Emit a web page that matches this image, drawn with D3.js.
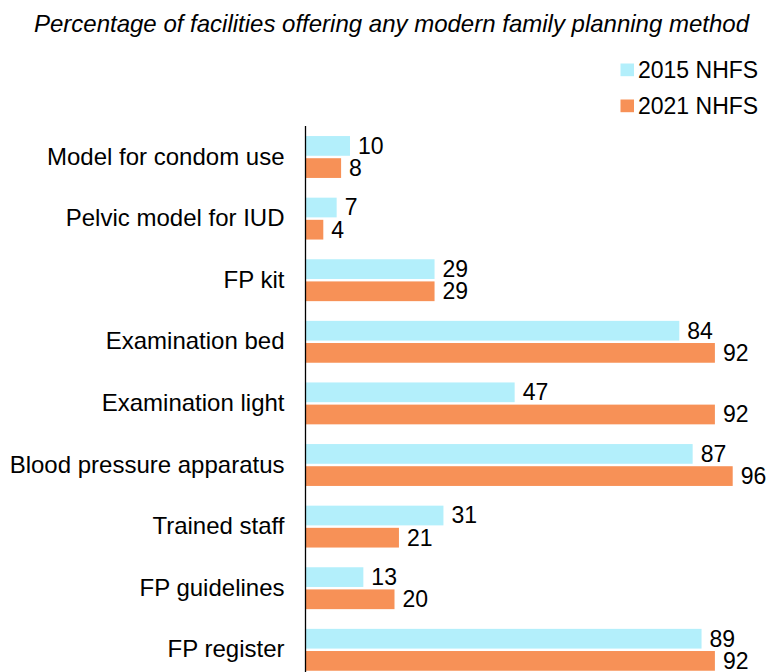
<!DOCTYPE html>
<html><head><meta charset="utf-8">
<script src="https://cdn.jsdelivr.net/npm/d3@7/dist/d3.min.js"></script>
<style>body{margin:0;background:#fff}svg{display:block}text{font-family:"Liberation Sans",Arial,sans-serif;fill:#000}</style>
</head><body>
<svg id="c" width="770" height="672"></svg>
<script>
const title = "Percentage of facilities offering any modern family planning method";
const categories = ["Model for condom use","Pelvic model for IUD","FP kit","Examination bed","Examination light","Blood pressure apparatus","Trained staff","FP guidelines","FP register"];
const seriesNames = ["2015 NHFS","2021 NHFS"];
const values2015 = [10,7,29,84,47,87,31,13,89];
const values2021 = [8,4,29,92,92,96,21,20,92];
const colors = ["#b3effb","#f79157"];

const svg = d3.select("#c");
const x = d3.scaleLinear().domain([0,100]).range([305.5, 305.5+445]);
const y = d3.scaleBand().domain(categories).range([126.2, 126.2+9*61.6]).paddingInner(0.32).paddingOuter(0.16);
const ySub = d3.scaleBand().domain(seriesNames).range([0, y.bandwidth()]).paddingInner(0.11);

svg.append("text").attr("x",391.5).attr("y",31.5).attr("text-anchor","middle")
  .style("font-style","italic").style("font-size","24px").text(title);

const data = categories.map((c,i)=>({c, vals:[values2015[i], values2021[i]]}));
const g = svg.append("g");
data.forEach(d=>{
  d.vals.forEach((v,j)=>{
    const yy = y(d.c)+ySub(seriesNames[j]);
    g.append("rect").attr("x",x(0)).attr("y",yy).attr("width",x(v)-x(0)).attr("height",ySub.bandwidth())
      .attr("fill",colors[j]);
    g.append("text").attr("x",x(v)+8).attr("y",yy+ySub.bandwidth()/2).attr("dy","0.34em")
      .style("font-size","23px").text(v);
  });
});

const axis = svg.append("g").attr("transform",`translate(${x(0)},0)`)
  .call(d3.axisLeft(y).tickSize(0).tickPadding(21));
axis.select(".domain").attr("d",`M0,126V672`).attr("stroke","#000").attr("stroke-width",1.3);
axis.selectAll("text").style("font-size","24px").attr("dy","0.32em").attr("fill","#000").style("font-family",'"Liberation Sans",Arial,sans-serif');

const leg = svg.append("g");
seriesNames.forEach((s,i)=>{
  const ly = 63.5 + i*36;
  leg.append("rect").attr("x",620.5).attr("y",ly).attr("width",13.5).attr("height",12.7).attr("fill",colors[i]);
  leg.append("text").attr("x",638).attr("y",ly+14.2).style("font-size","23px").text(s);
});
</script>
</body></html>
